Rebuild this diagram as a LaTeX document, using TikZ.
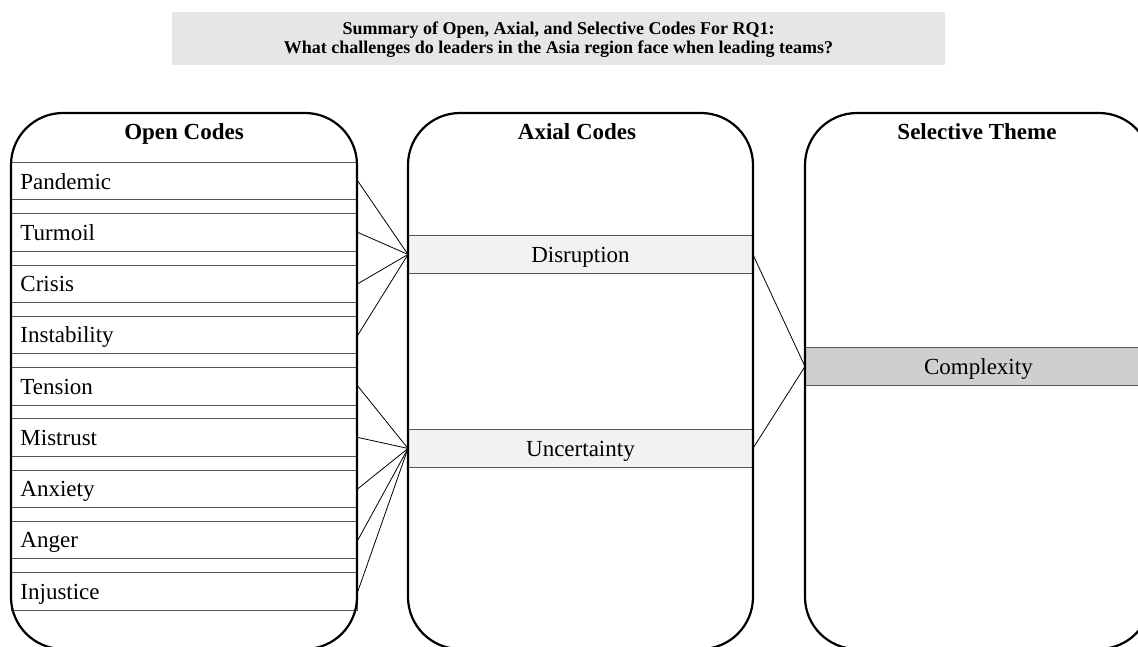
\documentclass[tikz,border=0pt]{standalone}
\usepackage{fontspec}
\setmainfont{Liberation Serif}
\definecolor{bannergray}{HTML}{E6E6E6}
\definecolor{axialfill}{HTML}{F2F2F2}
\definecolor{themefill}{HTML}{D0CFD0}
\definecolor{boxline}{HTML}{555555}
\tikzset{
  panel/.style={line width=2.2pt, rounded corners=52pt},
  codebox/.style={draw=boxline, line width=0.9pt, fill=white, anchor=north west,
    minimum height=37.5pt, text width=328pt, inner xsep=9pt, inner ysep=0pt,
    align=left, text height=16pt, text depth=0pt,
    font=\fontsize{23}{27}\selectfont},
  axialbox/.style={draw=boxline, line width=0.9pt, fill=axialfill, anchor=north west,
    minimum height=38pt, minimum width=344pt, inner sep=0pt,
    text height=16pt, text depth=0pt, font=\fontsize{23}{27}\selectfont},
  themebox/.style={axialbox, fill=themefill, minimum width=346pt},
  header/.style={anchor=base, font=\fontsize{23}{27}\selectfont\bfseries},
  conn/.style={draw=black, line width=0.8pt}
}
\begin{document}
\begin{tikzpicture}[x=1pt, y=-1pt]
  \useasboundingbox (0,0) rectangle (1138,647);
  \clip (0,0) rectangle (1138,647);

  % title banner
  \fill[bannergray] (172,12) rectangle (945,65);
  \node[anchor=base, font=\fontsize{18}{19}\selectfont\bfseries] (t1) at (558.5,35)
    {Summary of Open, Axial, and Selective Codes For RQ1:};
  \node[anchor=base, font=\fontsize{18}{19}\selectfont\bfseries] (t2) at (558.5,54)
    {What challenges do leaders in the Asia region face when leading teams?};

  % open codes
  \node[codebox] (pandemic)    at (11,162)    {Pandemic};
  \node[codebox] (turmoil)     at (11,213.25) {Turmoil};
  \node[codebox] (crisis)      at (11,264.5)  {Crisis};
  \node[codebox] (instability) at (11,315.75) {Instability};
  \node[codebox] (tension)     at (11,367)    {Tension};
  \node[codebox] (mistrust)    at (11,418.25) {Mistrust};
  \node[codebox] (anxiety)     at (11,469.5)  {Anxiety};
  \node[codebox] (anger)       at (11,520.75) {Anger};
  \node[codebox] (injustice)   at (11,572)    {Injustice};

  % axial codes
  \node[axialbox] (disruption)  at (408,235) {Disruption};
  \node[axialbox] (uncertainty) at (408,429) {Uncertainty};

  % selective theme
  \node[themebox] (complexity) at (805,347) {Complexity};

  % the three rounded panels
  \draw[panel] (11,113) rectangle (357,649);
  \draw[panel] (408,113) rectangle (753,649);
  \draw[panel] (805,113) rectangle (1151,649);

  % panel headings
  \node[header] (hopen)  at (184,140)   {Open Codes};
  \node[header] (haxial) at (577,140)   {Axial Codes};
  \node[header] (hsel)   at (977,140)   {Selective Theme};

  % connectors: open -> axial
  \foreach \src in {pandemic,turmoil,crisis,instability}
    \draw[conn] (\src.east) -- (disruption.west);
  \foreach \src in {tension,mistrust,anxiety,anger,injustice}
    \draw[conn] (\src.east) -- (uncertainty.west);

  % connectors: axial -> selective
  \draw[conn] (disruption.east) -- (complexity.west);
  \draw[conn] (uncertainty.east) -- (complexity.west);
\end{tikzpicture}
\end{document}
